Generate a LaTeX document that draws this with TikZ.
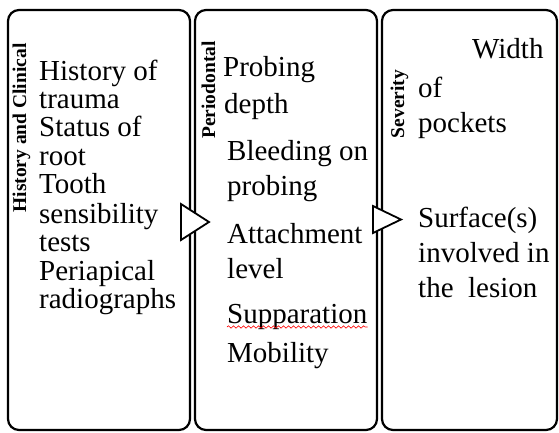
\documentclass[tikz,border=0pt]{standalone}
\usepackage{fontspec}
\setmainfont{Liberation Serif}
\usetikzlibrary{positioning,calc,decorations.pathmorphing}

\tikzset{
  panel/.style = {draw, line width=2.2pt, rounded corners=11pt,
    minimum height=420pt, inner sep=0pt, outer sep=0pt},
  pointer/.style = {draw, fill=white, line width=1.8pt, line join=miter},
  entry/.style = {anchor=base west, inner sep=0pt,
    font=\fontsize{29}{30}\selectfont},
  heading/.style = {rotate=90, anchor=base, inner sep=0pt,
    font=\fontsize{19.5}{20}\selectfont\bfseries},
  squiggle/.style = {red, line width=0.6pt, decorate,
    decoration={snake, amplitude=1.2pt, segment length=5pt}},
}

\begin{document}
\begin{tikzpicture}[x=1pt, y=-1pt]
  \useasboundingbox (0,0) rectangle (559,432);

  % the three panels
  \node[panel, minimum width=182pt] (hist) at (99,220) {};
  \node[panel, minimum width=182pt, right=5pt of hist] (peri) {};
  \node[panel, minimum width=175pt, right=5pt of peri] (sev) {};

  % pointers between panels
  \draw[pointer] ($(hist.east)+(-9,-16)$) -- ++(0,36) -- ++(28,-18) -- cycle;
  \draw[pointer] ($(peri.east)+(-4,-14)$) -- ++(0,27) -- ++(28,-13.5) -- cycle;

  % side headings
  \node[heading] (histhead) at (26,128) {History and Clinical};
  \node[heading] (perihead) at (215,90) {Periodontal};
  \node[heading] (sevhead) at (404,104) {Severity};

  % entries
  \foreach \y/\t [count=\i] in {80/History of, 108/trauma, 136/Status of,
      165/root, 193/Tooth, 223/sensibility, 251/tests, 280/Periapical,
      308/radiographs}
    \node[entry] (hist\i) at (39,\y) {\t};

  \foreach \x/\y/\t [count=\i] in {223/76/Probing, 224/113/depth,
      227/160/Bleeding on, 227/195/probing, 227/243/Attachment,
      227/278/level, 227/323/Supparation, 227/362/Mobility}
    \node[entry] (peri\i) at (\x,\y) {\t};

  \foreach \x/\y/\t [count=\i] in {472/58/Width, 418/97/of, 418/132/pockets,
      418/227/Surface(s), 418/262/involved in, 418/297/the\ \ lesion}
    \node[entry] (sev\i) at (\x,\y) {\t};

  \draw[squiggle] ($(peri7.base west)+(0,4)$) -- ($(peri7.base east)+(0,4)$);
\end{tikzpicture}
\end{document}
